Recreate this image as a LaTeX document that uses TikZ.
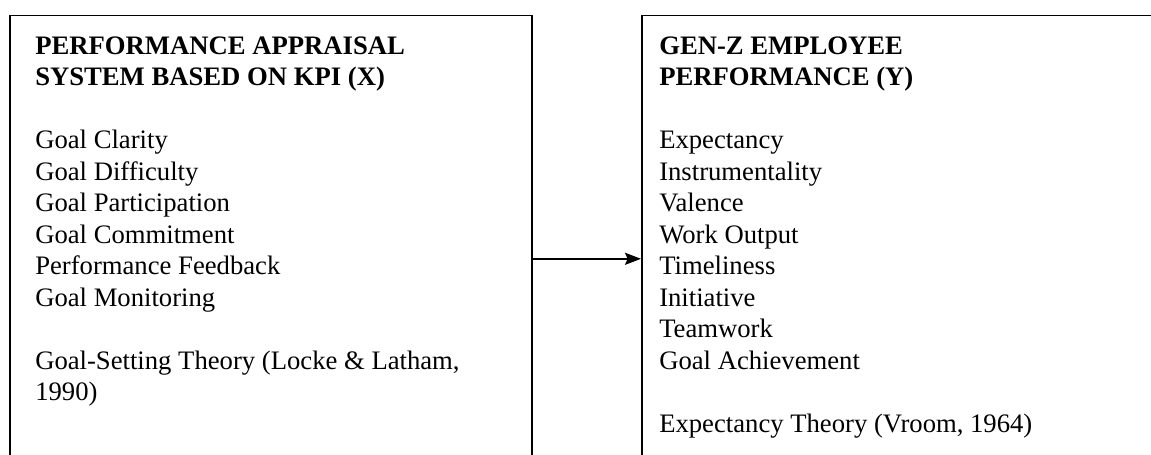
\documentclass[tikz,border=0pt]{standalone}
\usepackage{fontspec}
\setmainfont{Liberation Serif}
\usetikzlibrary{arrows.meta, positioning}

\begin{document}
\begin{tikzpicture}[x=0.75pt, y=-0.75pt,
        frame/.style={rectangle, draw=black, line width=1.2pt,
                      minimum width=391.5pt, minimum height=365.25pt, inner sep=0pt},
        body/.style={anchor=north west, inner sep=0pt, align=left,
                     font=\fontsize{20}{23.6}\selectfont},
        arr/.style={-{Stealth[length=12pt, width=9pt, inset=2pt]}, black, line width=1.5pt},
        node distance=81.3pt
      ]
      \useasboundingbox (0,0) rectangle (1151,454);
      \clip (0,0) rectangle (1151,454);
      \node[frame, anchor=north west] (apsbox) at (9,14.5) {};
      \node[frame, right=of apsbox] (perfbox) {};
      \node[body] (apstext) at ([xshift=19.5pt, yshift=-16.5pt]apsbox.north west)
            {\textbf{PERFORMANCE APPRAISAL}\\
             \textbf{SYSTEM BASED ON KPI (X)}\\[23.6pt]
             Goal Clarity\\
             Goal Difficulty\\
             Goal Participation\\
             Goal Commitment\\
             Performance Feedback\\
             Goal Monitoring\\[23.6pt]
             Goal-Setting Theory (Locke \& Latham,\\
             1990)};
      \node[body] (perftext) at ([xshift=13.5pt, yshift=-16.5pt]perfbox.north west)
            {\textbf{GEN-Z EMPLOYEE}\\
             \textbf{PERFORMANCE (Y)}\\[23.6pt]
             Expectancy\\
             Instrumentality\\
             Valence\\
             Work Output\\
             Timeliness\\
             Initiative\\
             Teamwork\\
             Goal Achievement\\[23.6pt]
             Expectancy Theory (Vroom, 1964)};
      \draw[arr] (apsbox) -- (perfbox);
    \end{tikzpicture}
\end{document}
